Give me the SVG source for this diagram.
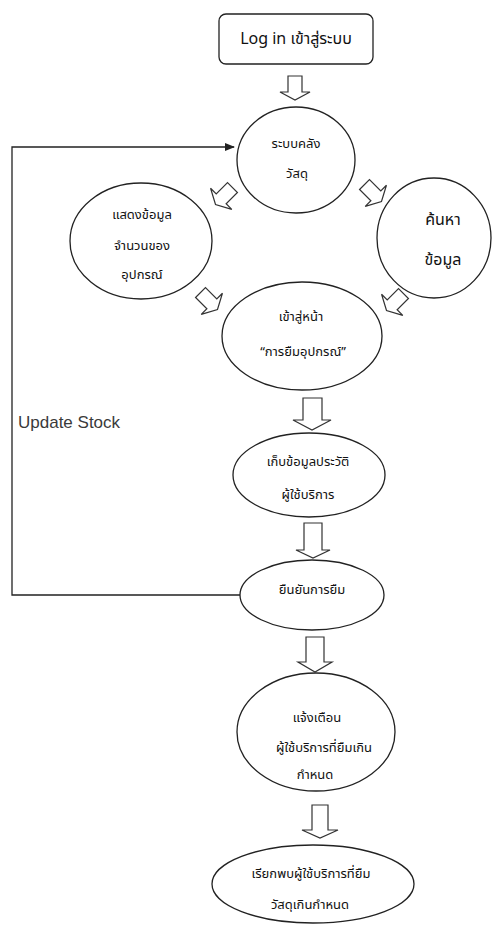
<svg xmlns="http://www.w3.org/2000/svg" width="504" height="929" viewBox="0 0 504 929">
  <style>
    .shape { fill: #ffffff; stroke: #222222; stroke-width: 1.3; }
    .barrow { fill: #ffffff; stroke: #333333; stroke-width: 1.2; stroke-linejoin: miter; }
    .th { font-family: "Noto Sans Thai", "Noto Sans", "DejaVu Sans", sans-serif; font-size: 13px; fill: #111111; text-anchor: middle; dominant-baseline: central; }
    .big { font-size: 16px; }
    .lbl { font-family: "Liberation Sans", Arial, sans-serif; font-size: 17px; fill: #3a3a3a; }
    .link { fill: none; stroke: #222222; stroke-width: 1.3; }
  </style>
  <defs>
    <marker id="head" markerWidth="10" markerHeight="8" refX="9" refY="4" orient="auto" markerUnits="userSpaceOnUse">
      <path d="M0,0 L10,4 L0,8 Z" fill="#222222"/>
    </marker>
    <!-- small block arrow pointing down, origin at its centre -->
    <path id="blk" d="M-7,-12 H7 V4 H15 L0,12 L-15,4 H-7 Z"/>
  </defs>

  <!-- connectors -->
  <g id="connectors">
    <path class="link" d="M240,595 H12 V147 H234" marker-end="url(#head)"/>
    <text class="lbl" x="18" y="428">Update Stock</text>

    <!-- block arrows -->
    <path class="barrow" d="M288,76 H302 V92 H310 L295,100 L280,92 H288 Z"/>
    <use href="#blk" class="barrow" transform="translate(224,196) rotate(45)"/>
    <use href="#blk" class="barrow" transform="translate(373,193) rotate(-45)"/>
    <use href="#blk" class="barrow" transform="translate(209,301) rotate(-45)"/>
    <use href="#blk" class="barrow" transform="translate(395,302) rotate(45)"/>
    <path class="barrow" d="M303,398 H322 V420 H331 L312,430 L293,420 H303 Z"/>
    <path class="barrow" d="M304,523 H322 V550 H330 L313,558 L296,550 H304 Z"/>
    <path class="barrow" d="M306,637 H324 V662 H332 L315,672 L298,662 H306 Z"/>
    <path class="barrow" d="M312,805 H328 V830 H338 L320,838 L302,830 H312 Z"/>
  </g>

  <g id="login">
    <rect class="shape" x="219" y="14" width="154" height="50" rx="7"/>
    <text class="th" x="296" y="39" style="font-size:16px">Log in เข้าสู่ระบบ</text>
  </g>

  <g id="warehouse">
    <ellipse class="shape" cx="296" cy="160" rx="59" ry="53"/>
    <text class="th" x="296" y="144">ระบบคลัง</text>
    <text class="th" x="297" y="174">วัสดุ</text>
  </g>

  <g id="show-data">
    <ellipse class="shape" cx="141" cy="241" rx="71" ry="58"/>
    <text class="th" x="142" y="215">แสดงข้อมูล</text>
    <text class="th" x="142" y="246">จำนวนของ</text>
    <text class="th" x="142" y="275">อุปกรณ์</text>
  </g>

  <g id="search">
    <ellipse class="shape" cx="434" cy="238" rx="57" ry="60"/>
    <text class="th big" x="443" y="220">ค้นหา</text>
    <text class="th big" x="443" y="260">ข้อมูล</text>
  </g>

  <g id="borrow-page">
    <ellipse class="shape" cx="302" cy="336" rx="80" ry="54"/>
    <text class="th" x="301" y="317">เข้าสู่หน้า</text>
    <text class="th" x="303" y="352">“การยืมอุปกรณ์”</text>
  </g>

  <g id="history">
    <ellipse class="shape" cx="309" cy="475" rx="76" ry="42"/>
    <text class="th" x="308" y="462">เก็บข้อมูลประวัติ</text>
    <text class="th" x="308" y="495">ผู้ใช้บริการ</text>
  </g>

  <g id="confirm">
    <ellipse class="shape" cx="312" cy="595" rx="72" ry="35"/>
    <text class="th" x="312" y="590">ยืนยันการยืม</text>
  </g>

  <g id="notify">
    <ellipse class="shape" cx="316" cy="732" rx="79" ry="59"/>
    <text class="th" x="317" y="718">แจ้งเตือน</text>
    <text class="th" x="324" y="748">ผู้ใช้บริการที่ยืมเกิน</text>
    <text class="th" x="315" y="775">กำหนด</text>
  </g>

  <g id="summon">
    <ellipse class="shape" cx="313" cy="884" rx="101" ry="39"/>
    <text class="th" x="311" y="874">เรียกพบผู้ใช้บริการที่ยืม</text>
    <text class="th" x="310" y="905">วัสดุเกินกำหนด</text>
  </g>
</svg>
